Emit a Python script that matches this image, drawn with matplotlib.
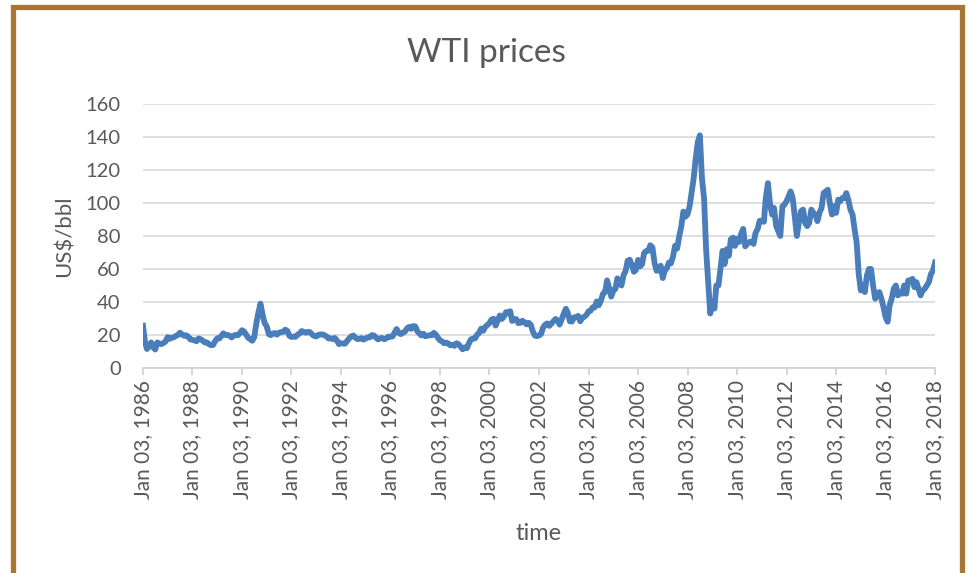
import numpy as np
import pandas as pd
import matplotlib
matplotlib.use("Agg")
import matplotlib.pyplot as plt
import matplotlib.dates as mdates
from matplotlib.patches import Rectangle

plt.rcParams['font.family'] = ['Lato', 'DejaVu Sans']

# WTI spot price, US$/bbl, one value per month (Jan 1986 .. Jan 2018)
wti = [
    25.6, 15.5, 11.5, 13.0, 15.5, 12.5, 11.2, 15.5, 14.8, 14.5, 15.2, 16.1,   # 1986
    18.7, 17.7, 18.3, 18.6, 19.4, 20.0, 21.4, 20.3, 19.5, 19.8, 18.9, 17.3,   # 1987
    17.1, 16.7, 16.2, 17.9, 17.4, 16.5, 15.5, 15.5, 14.5, 13.8, 14.0, 16.3,   # 1988
    18.0, 17.9, 19.4, 21.0, 20.0, 20.0, 19.6, 18.5, 19.6, 20.1, 19.8, 21.1,   # 1989
    22.9, 22.1, 20.4, 18.4, 17.5, 16.5, 18.6, 27.2, 33.7, 39.0, 32.3, 27.3,   # 1990
    25.2, 20.5, 19.9, 20.8, 21.2, 20.2, 21.4, 21.7, 21.9, 23.2, 22.5, 19.5,   # 1991
    18.8, 19.0, 18.9, 20.2, 20.9, 22.4, 21.8, 21.4, 21.9, 21.7, 20.3, 19.4,   # 1992
    19.1, 20.1, 20.3, 20.3, 19.9, 19.1, 17.9, 18.0, 17.5, 18.2, 16.7, 14.5,   # 1993
    15.0, 14.8, 14.7, 16.4, 17.9, 19.1, 19.7, 18.4, 17.5, 17.7, 18.1, 17.2,   # 1994
    18.0, 18.5, 18.6, 19.9, 19.7, 18.4, 17.3, 18.0, 18.2, 17.4, 18.0, 19.0,   # 1995
    18.9, 19.1, 21.4, 23.6, 21.3, 20.5, 21.3, 22.0, 24.0, 24.9, 23.7, 25.4,   # 1996
    25.2, 22.2, 21.0, 19.7, 20.8, 19.2, 19.6, 19.9, 19.8, 21.3, 20.2, 18.3,   # 1997
    16.7, 16.1, 15.0, 15.4, 14.9, 13.7, 14.1, 13.4, 15.0, 14.4, 12.9, 11.3,   # 1998
    12.5, 12.0, 14.7, 17.3, 17.8, 17.9, 20.1, 21.3, 23.9, 22.6, 25.0, 26.1,   # 1999
    27.2, 29.4, 29.9, 25.7, 28.8, 31.8, 29.7, 31.2, 33.9, 33.1, 34.4, 28.5,   # 2000
    29.6, 29.6, 27.2, 27.4, 28.6, 27.6, 26.4, 27.4, 26.2, 22.2, 19.6, 19.3,   # 2001
    19.7, 20.7, 24.4, 26.2, 27.0, 25.5, 26.9, 28.4, 29.7, 28.9, 26.3, 29.4,   # 2002
    32.9, 35.9, 33.5, 28.3, 28.1, 30.7, 30.8, 31.6, 28.3, 30.3, 31.1, 32.1,   # 2003
    34.3, 34.7, 36.7, 36.7, 40.3, 38.0, 40.7, 44.9, 46.0, 53.1, 48.5, 43.3,   # 2004
    46.8, 48.0, 54.3, 53.0, 50.0, 56.3, 58.7, 65.0, 65.6, 62.4, 58.3, 59.4,   # 2005
    65.5, 61.6, 62.9, 69.7, 70.9, 71.0, 74.4, 73.1, 63.8, 58.9, 59.1, 62.0,   # 2006
    54.5, 59.3, 60.4, 63.9, 63.4, 67.5, 74.1, 72.4, 79.9, 85.8, 94.8, 91.7,   # 2007
    93.0, 98.0, 106.0, 115.0, 127.0, 137.0, 141.0, 115.0, 103.0, 72.0, 52.0, 33.0,  # 2008
    40.0, 36.0, 50.0, 50.0, 60.0, 71.0, 63.0, 72.0, 68.0, 78.0, 79.0, 74.0,   # 2009
    78.3, 76.4, 81.2, 84.3, 73.7, 75.3, 76.3, 76.6, 75.2, 81.9, 84.3, 89.2,   # 2010
    89.2, 88.6, 102.9, 112.0, 100.0, 93.0, 97.0, 86.0, 83.0, 80.0, 98.0, 99.0,  # 2011
    101.0, 104.0, 107.0, 103.0, 92.0, 80.0, 88.0, 95.0, 96.0, 88.0, 86.0, 88.0,  # 2012
    96.0, 94.0, 93.0, 89.0, 94.0, 97.0, 106.0, 107.0, 108.0, 100.0, 93.0, 98.0,  # 2013
    94.0, 102.0, 101.0, 103.0, 103.0, 106.0, 102.0, 96.0, 93.0, 84.0, 76.0, 57.0,  # 2014
    47.0, 50.0, 46.0, 56.0, 60.0, 60.0, 50.0, 42.0, 45.0, 46.0, 42.0, 37.0,   # 2015
    31.0, 28.0, 38.0, 42.0, 48.0, 50.0, 44.0, 46.0, 45.0, 50.0, 45.0, 53.0,   # 2016
    53.0, 54.0, 49.0, 52.0, 48.0, 44.0, 47.0, 48.0, 50.0, 52.0, 57.0, 59.0,   # 2017
    64.0,                                                                     # 2018
]
dates = pd.date_range('1986-01-01', periods=len(wti), freq='MS') + pd.Timedelta(days=2)
tick_years = list(range(1986, 2019, 2))

grey = '#595959'

fig = plt.figure(figsize=(9.68, 5.73), dpi=100)
ax = fig.add_axes([0.1477, 0.3578, 0.8183, 0.4607])

ax.plot(dates, wti, color='#4a7ebb', lw=4.2, solid_joinstyle='round')

ax.set_ylim(0, 160)
ax.set_yticks(np.arange(0, 161, 20))
ax.set_xlim(pd.Timestamp('1986-01-03'), pd.Timestamp('2018-01-03'))
ax.set_xticks([pd.Timestamp(f'{y}-01-03') for y in tick_years])
ax.xaxis.set_major_formatter(mdates.DateFormatter('%b %d, %Y'))

ax.grid(axis='y', color='#d9d9d9', lw=1.2)
ax.set_axisbelow(True)
for s in ['left', 'right', 'top']:
    ax.spines[s].set_visible(False)
ax.spines['bottom'].set_color('#d0d0d0')
ax.spines['bottom'].set_linewidth(1.2)

ax.tick_params(axis='y', length=0, pad=16, labelsize=14.5, labelcolor=grey)
ax.tick_params(axis='x', length=5, width=1.2, color='#d0d0d0', pad=4,
               labelsize=15, labelcolor=grey, labelrotation=90)

ax.set_ylabel('US$/bbl', fontsize=16, color=grey, labelpad=8)
ax.set_xlabel('time', fontsize=17, color=grey, labelpad=17)
fig.text(0.503, 0.908, 'WTI prices', fontsize=24, color=grey, ha='center', va='center')

# brown frame round the chart area (runs off the bottom of the image)
fig.patches.append(Rectangle((12.5 / 968, -0.05), (962 - 12.5) / 968, 1.05 - 6.5 / 573,
                             transform=fig.transFigure, fill=False,
                             edgecolor='#a47832', lw=3.8))

fig.savefig('out.png', dpi=100, facecolor='white')
